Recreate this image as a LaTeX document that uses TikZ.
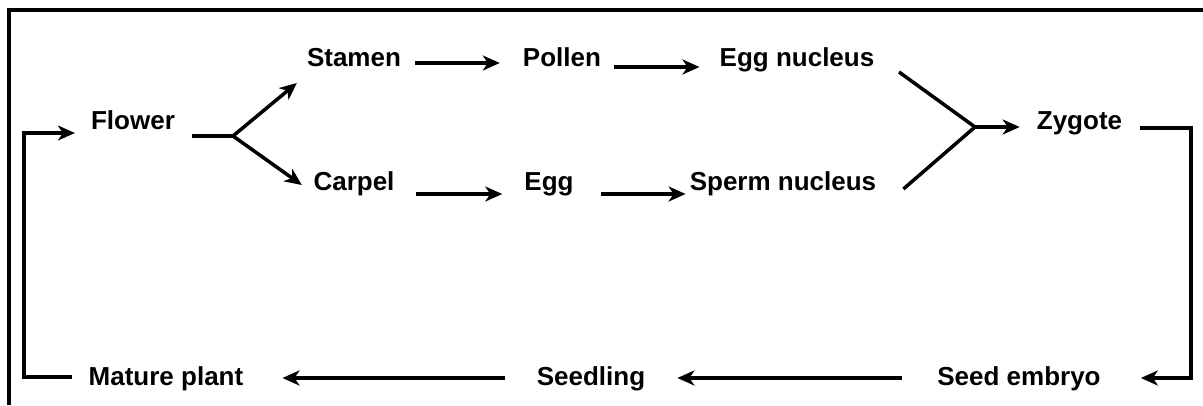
\documentclass[tikz,border=0pt]{standalone}
\usepackage{fontspec}
\setmainfont{Liberation Sans}
\usetikzlibrary{arrows.meta}

\begin{document}
\begin{tikzpicture}[
  x=1pt,y=-1pt,
  font=\fontsize{26pt}{30pt}\selectfont\bfseries,
  >={Stealth[length=17pt,width=15pt,inset=5pt]},
  stage/.style={anchor=base,inner sep=0pt},
  edge/.style={line width=3.5pt},
  frame/.style={line width=4pt}
]
\useasboundingbox (0,0) rectangle (1203,405);
\draw[frame] (8.5,405) -- (8.5,10) -- (1203,10);

% stages
\node[stage] (flower)   at (133,129)  {Flower};
\node[stage] (stamen)   at (354,66)   {Stamen};
\node[stage] (carpel)   at (354,190)  {Carpel};
\node[stage] (pollen)   at (562,66)   {Pollen};
\node[stage] (egg)      at (549,190)  {Egg};
\node[stage] (eggnuc)   at (797,66)   {Egg nucleus};
\node[stage] (sperm)    at (783,190)  {Sperm nucleus};
\node[stage] (zygote)   at (1079.5,129) {Zygote};
\node[stage] (embryo)   at (1019,385) {Seed embryo};
\node[stage] (seedling) at (591,385)  {Seedling};
\node[stage] (plant)    at (166,385)  {Mature plant};

% junctions and corners
\coordinate (fork)   at (233,136);
\coordinate (merge)  at (975,127);
\coordinate (zcorn)  at (1191,378);
\coordinate (pcorn)  at (24,133);

\draw[edge] ([shift={(17,7)}]flower.base east) -- (fork);
\draw[edge,->] (fork) -- ([shift={(-10,17)}]stamen.base west);
\draw[edge,->] (fork) -- ([shift={(-11.5,-5)}]carpel.base west);
\draw[edge,->] ([shift={(14,-3)}]stamen.base east) -- ([shift={(-23,-3)}]pollen.base west);
\draw[edge,->] ([shift={(13,1)}]pollen.base east) -- ([shift={(-20,1)}]eggnuc.base west);
\draw[edge,->] ([shift={(21,4)}]carpel.base east) -- ([shift={(-22,4)}]egg.base west);
\draw[edge,->] ([shift={(27,4)}]egg.base east) -- ([shift={(-4,4)}]sperm.base west);
\draw[edge] ([shift={(24.5,6)}]eggnuc.base east) -- (merge);
\draw[edge] ([shift={(27,-1)}]sperm.base east) -- (merge);
\draw[edge,->] (merge) -- ([shift={(-17,-2)}]zygote.base west);
\draw[edge,->] ([shift={(18,-1)}]zygote.base east) -| (zcorn)
  -- ([shift={(40,-7)}]embryo.base east);
\draw[edge,->] ([shift={(-35,-7)}]embryo.base west) -- ([shift={(32,-7)}]seedling.base east);
\draw[edge,->] ([shift={(-32,-7)}]seedling.base west) -- ([shift={(39,-7)}]plant.base east);
\draw[edge,->] ([shift={(-17,-8)}]plant.base west) -| (pcorn)
  -- ([shift={(-16,4)}]flower.base west);
\end{tikzpicture}
\end{document}
